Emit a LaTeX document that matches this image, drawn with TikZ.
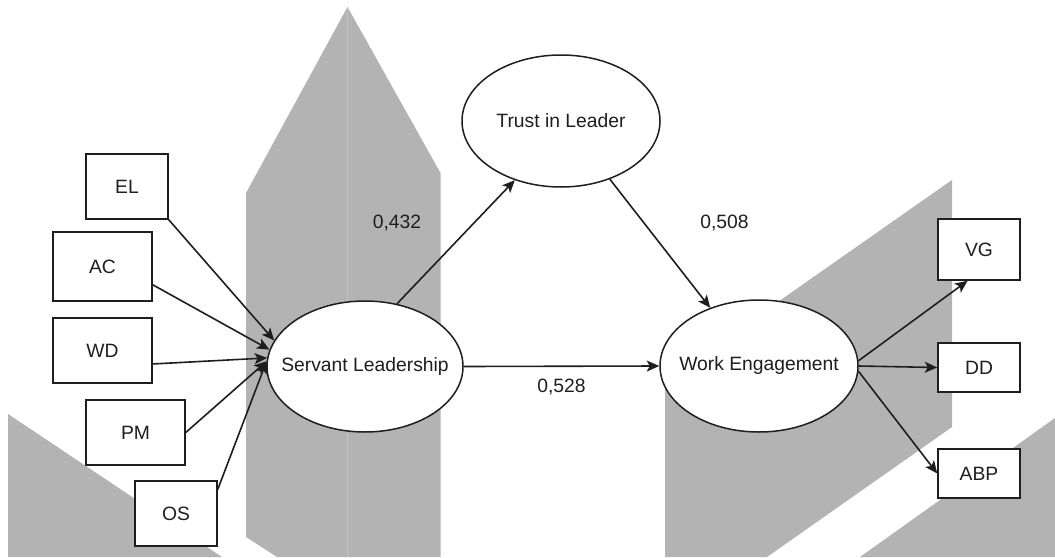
\documentclass[tikz,border=0pt]{standalone}
\usepackage{fontspec}
\setmainfont{Liberation Sans}
\usetikzlibrary{shapes.geometric,arrows.meta}
\definecolor{bggray}{HTML}{B3B3B3}
\definecolor{bgline}{HTML}{C2C2C2}
\definecolor{ink}{HTML}{1E1E1E}
\begin{document}
\begin{tikzpicture}[x=1pt,y=-1pt,
  every node/.style={font=\fontsize{19.3}{23}\selectfont, text=ink},
  ind/.style={draw=ink, line width=1.5pt, fill=white, rectangle, inner sep=0pt},
  lat/.style={draw=ink, line width=1.5pt, fill=white, ellipse, inner sep=0pt},
  link/.style={draw=ink, line width=1.6pt, -{Stealth[length=12.5pt,width=11pt,inset=3pt]}},
  lbl/.style={inner sep=0pt}]
  % canvas
  \fill[white] (0,0) rectangle (1055,557);
  \useasboundingbox (0,0) rectangle (1055,557);

  % grey background shapes
  \fill[bggray] (246,193) -- (347.5,7) -- (440.5,173) -- (440.5,557) -- (277,557) -- (246,537) -- cycle;
  \draw[bgline, line width=1.3pt] (347.5,9) -- (347.5,557);
  \fill[bggray] (8,414) -- (222,557) -- (8,557) -- cycle;
  \fill[bggray] (665,381) -- (952,180) -- (952,427) -- (767,557) -- (665,557) -- cycle;
  \fill[bggray] (1055,418) -- (860,557) -- (1055,557) -- cycle;

  % indicators
  \node[ind, minimum width=82pt, minimum height=65pt] (el)  at (127,186.5) {EL};
  \node[ind, minimum width=99pt, minimum height=69pt] (ac)  at (102.5,266.5) {AC};
  \node[ind, minimum width=99pt, minimum height=65pt] (wd)  at (102.5,350.5) {WD};
  \node[ind, minimum width=99pt, minimum height=65pt] (pm)  at (135.5,432.5) {PM};
  \node[ind, minimum width=82pt, minimum height=65pt] (os)  at (176,513.5) {OS};
  \node[ind, minimum width=82pt, minimum height=61pt] (vg)  at (979,249.5) {VG};
  \node[ind, minimum width=82pt, minimum height=49pt] (dd)  at (979,367.5) {DD};
  \node[ind, minimum width=82pt, minimum height=49pt] (abp) at (979,473.5) {ABP};

  % latent constructs (text kept out of the ellipse sizing)
  \node[lat, minimum width=196pt, minimum height=131pt] (sl) at (365,366.5) {\makebox[0pt]{Servant Leadership}};
  \node[lat, minimum width=198pt, minimum height=132pt] (tl) at (561,121) {\makebox[0pt]{Trust in Leader}};
  \node[lat, minimum width=198pt, minimum height=132pt] (we) at (759,366) {\makebox[0pt]{Work Engagement}};

  % indicator paths
  \draw[link] (el.south east) -- (sl.164);
  \draw[link] (ac.340) -- (sl.170);
  \draw[link] (wd.345) -- (sl.175);
  \draw[link] (pm.east) -- (sl.177);
  \draw[link] (os.30) -- (sl.177);

  % structural paths
  \draw[link] (sl.63) -- (tl.232);
  \draw[link] (tl.310) -- (we.130);
  \draw[link] (sl.east) -- (we.west);
  \draw[link] (we.3) -- (vg.250);
  \draw[link] (we.east) -- (dd.west);
  \draw[link] (we.357) -- (abp.west);

  % coefficients
  \node[lbl] (c1) at (397,223) {0,432};
  \node[lbl] (c2) at (724.5,223) {0,508};
  \node[lbl] (c3) at (561.5,387) {0,528};
\end{tikzpicture}
\end{document}
